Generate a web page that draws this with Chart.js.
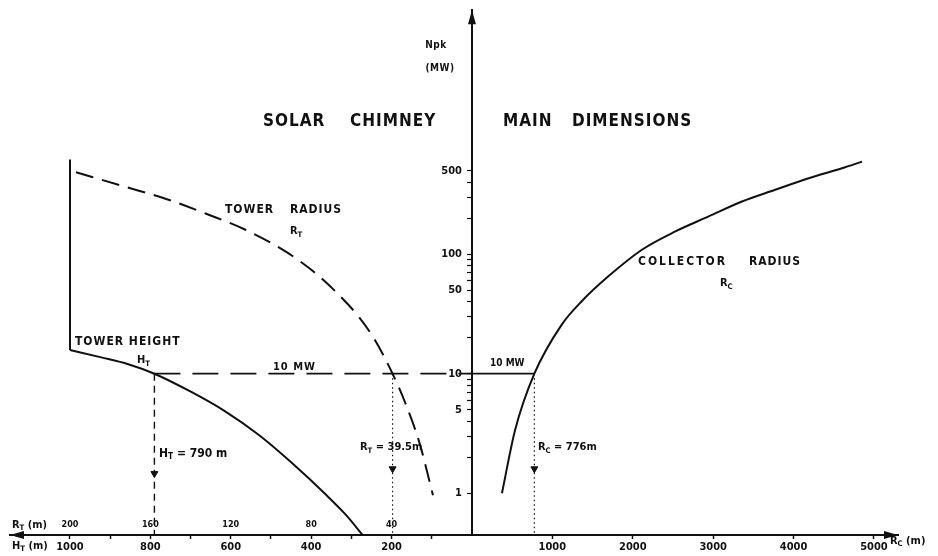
<!DOCTYPE html>
<html>
<head>
<meta charset="utf-8">
<title>Solar chimney main dimensions</title>
<script src="https://cdn.jsdelivr.net/npm/chart.js@4.4.1/dist/chart.umd.min.js"></script>
<style>
  html, body { margin: 0; padding: 0; background: #fff; }
  #wrap { position: relative; width: 938px; height: 556px; }
</style>
</head>
<body>
<div id="wrap"><canvas id="myChart"></canvas></div>
<script>
// values, peak power Npk in MW (log axis)

// tower radius R_T (m), dashed curve on the left
var radiusRT = [197, 173, 151, 131, 113, 93, 79, 68, 56, 48, 39.5, 33, 26, 19.4];
var radiusN = [485, 369, 286, 214, 161, 106, 72, 49, 29.5, 18.8, 10, 5.6, 2.6, 0.96];

// tower height H_T (m), solid curve on the left (capped at 1000 m)
var capH = [1000, 1000];
var capN = [620, 15.8];
var heightH = [1000, 922, 855, 790, 697, 613, 530, 447, 363, 313, 272];
var heightN = [15.8, 13.7, 12.0, 10, 7.0, 4.82, 3.07, 1.78, 0.97, 0.655, 0.447];

// collector radius R_C (m), solid curve on the right
var collectorR = [373, 535, 776, 1119, 1368, 1700, 2114, 2529, 2944, 3358, 3772, 4188, 4602, 4851];
var collectorN = [1.0, 3.35, 10, 25.9, 40.6, 65.6, 109, 155, 207, 276, 346, 432, 524, 596];

// the 10 MW design point
var designN = 10;
var designH = 790;
var designRT = 39.5;
var designRC = 776;
var arrowN = [1.46, 1.6, 1.6];   // arrowheads on the drop lines (H_T, R_T, R_C)

// axes
var yTicks = [1, 2, 3, 4, 5, 6, 7, 8, 9, 10, 20, 30, 40, 50, 60, 70, 80, 90, 100, 200, 300, 400, 500];
var yLabels = [1, 5, 10, 50, 100, 500];
var hTicks = [100, 200, 300, 400, 500, 600, 700, 800, 900, 1000];
var hLabels = [1000, 800, 600, 400, 200];
var rtLabels = [200, 160, 120, 80, 40];
var rcTicks = [1000, 2000, 3000, 4000, 5000];

// one shared x axis in collector metres; the left half is drawn 5x (H_T) and 25x (R_T) larger
var heightToX = 5;
var radiusToX = 25;
var xMin = -5746, xMax = 5299;
var yMin = 0.447, yMax = 11015;

var ink = '#111';
var face = '"DejaVu Sans Condensed", "Liberation Sans", sans-serif';

function pts(xs, ys, k) {
    return xs.map(function(v, i) { return {x: k * v, y: ys[i]}; });
}

function line(data, width, dash, smooth) {
    return {
        data: data, showLine: true, borderColor: ink, borderWidth: width,
        borderDash: dash || [], pointRadius: 0, fill: false,
        cubicInterpolationMode: smooth ? 'monotone' : 'default', tension: 0
    };
}

// labels, anchored in axis units (x in collector metres, n in MW)
var notes = [
    {t: 'SOLAR', x: -2600, n: 1283, size: 17, sp: 1},
    {t: 'CHIMNEY', x: -1517, n: 1283, size: 17, sp: 1},
    {t: 'MAIN', x: 386, n: 1283, size: 17, sp: 1},
    {t: 'DIMENSIONS', x: 1244, n: 1283, size: 17, sp: 1},
    {t: 'Npk', x: -448, n: 5623, size: 10, sp: 0.5, align: 'center'},
    {t: '(MW)', x: -398, n: 3594, size: 10, sp: 0.5, align: 'center'},
    {t: 'TOWER', x: -3072, n: 237, size: 12, sp: 1},
    {t: 'RADIUS', x: -2264, n: 237, size: 12, sp: 1},
    {t: 'R_T', x: -2264, n: 155, size: 11, sp: 0},
    {t: 'TOWER HEIGHT', x: -4938, n: 18.4, size: 12, sp: 1},
    {t: 'H_T', x: -4167, n: 12.9, size: 11, sp: 0},
    {t: '10 MW', x: -2475, n: 11.4, size: 11, sp: 1},
    {t: '10 MW', x: 224, n: 12.3, size: 10, sp: 0},
    {t: 'H_T = 790 m', x: -3893, n: 2.15, size: 12, sp: 0},
    {t: 'R_T = 39.5m', x: -1393, n: 2.42, size: 11, sp: 0},
    {t: 'R_C = 776m', x: 821, n: 2.42, size: 11, sp: 0},
    {t: 'COLLECTOR', x: 2065, n: 87, size: 12, sp: 2},
    {t: 'RADIUS', x: 3445, n: 87, size: 12, sp: 1},
    {t: 'R_C', x: 3085, n: 57, size: 11, sp: 0},
    {t: 'R_C (m)', x: 5199, n: 0.398, size: 11, sp: 0}
];

function drawNote(ctx, text, x, y, size, sp, align) {
    var parts = text.split(/_(.)/);
    ctx.textBaseline = 'middle';
    ctx.textAlign = 'left';
    if ('letterSpacing' in ctx) ctx.letterSpacing = sp + 'px';
    var w = 0;
    parts.forEach(function(p, i) {
        ctx.font = 'bold ' + (i % 2 ? size * 0.7 : size) + 'px ' + face;
        w += ctx.measureText(p).width;
    });
    if (align === 'center') x -= w / 2;
    if (align === 'right') x -= w;
    parts.forEach(function(p, i) {
        ctx.font = 'bold ' + (i % 2 ? size * 0.7 : size) + 'px ' + face;
        ctx.fillText(p, x, i % 2 ? y + size * 0.3 : y);
        x += ctx.measureText(p).width;
    });
    if ('letterSpacing' in ctx) ctx.letterSpacing = '0px';
}

function arrowHead(ctx, x, y, dir) {
    ctx.beginPath();
    if (dir === 'left') { ctx.moveTo(x, y); ctx.lineTo(x + 14, y - 4); ctx.lineTo(x + 14, y + 4); }
    if (dir === 'right') { ctx.moveTo(x, y); ctx.lineTo(x - 14, y - 4); ctx.lineTo(x - 14, y + 4); }
    if (dir === 'up') { ctx.moveTo(x, y); ctx.lineTo(x - 4, y + 14); ctx.lineTo(x + 4, y + 14); }
    ctx.closePath();
    ctx.fill();
}

var annotate = {
    id: 'annotate',
    afterDraw: function(chart) {
        var ctx = chart.ctx, xs = chart.scales.x, ys = chart.scales.y, area = chart.chartArea;
        ctx.save();
        ctx.fillStyle = ink;
        var ox = xs.getPixelForValue(0);
        arrowHead(ctx, area.left, area.bottom, 'left');
        arrowHead(ctx, area.right, area.bottom, 'right');
        arrowHead(ctx, ox, area.top, 'up');

        // power labels to the left of the centre axis
        yLabels.forEach(function(v) {
            drawNote(ctx, String(v), ox - 10, ys.getPixelForValue(v), 11, 0, 'right');
        });

        // tower radius scale, above the axis line
        rtLabels.forEach(function(r) {
            drawNote(ctx, String(r), xs.getPixelForValue(-r * radiusToX), area.bottom - 10, 9, 0, 'center');
        });
        drawNote(ctx, 'R_T (m)', area.left + 2, area.bottom - 10, 11, 0);
        drawNote(ctx, 'H_T (m)', area.left + 2, area.bottom + 11, 11, 0);

        notes.forEach(function(n) {
            drawNote(ctx, n.t, xs.getPixelForValue(n.x), ys.getPixelForValue(n.n), n.size, n.sp, n.align);
        });
        ctx.restore();
    }
};

var dropH = -designH * heightToX, dropRT = -designRT * radiusToX;

var ctx = document.getElementById('myChart').getContext('2d');
var chart = new Chart(ctx, {
    type: 'scatter',
    data: {
        datasets: [
            line(pts(radiusRT, radiusN, -radiusToX), 2, [18, 9], true),
            line(pts(capH, capN, -heightToX), 2),
            line(pts(heightH, heightN, -heightToX), 2, [], true),
            line(pts(collectorR, collectorN, 1), 2, [], true),
            line([{x: dropH, y: designN}, {x: 0, y: designN}], 1.8, [26, 12]),
            line([{x: 0, y: designN}, {x: designRC, y: designN}], 1.8),
            line([{x: dropH, y: designN}, {x: dropH, y: yMin}], 1.4, [7, 5]),
            line([{x: dropRT, y: designN}, {x: dropRT, y: yMin}], 1.2, [1.5, 3]),
            line([{x: designRC, y: designN}, {x: designRC, y: yMin}], 1.2, [1.5, 3]),
            {
                data: [{x: dropH, y: arrowN[0]}, {x: dropRT, y: arrowN[1]}, {x: designRC, y: arrowN[2]}],
                pointStyle: 'triangle', rotation: 180, pointRadius: 4,
                backgroundColor: ink, borderColor: ink, showLine: false
            }
        ]
    },
    options: {
        responsive: true,
        maintainAspectRatio: false,
        animation: false,
        layout: { padding: {left: 10, right: 40, top: 8, bottom: 0} },
        plugins: { legend: {display: false}, tooltip: {enabled: false} },
        scales: {
            x: {
                type: 'linear', position: 'bottom', min: xMin, max: xMax,
                afterBuildTicks: function(s) {
                    s.ticks = hTicks.map(function(h) { return {value: -h * heightToX}; })
                        .concat(rcTicks.map(function(r) { return {value: r}; }));
                },
                afterFit: function(s) { s.height = 21; },
                grid: { drawOnChartArea: false, tickLength: 4, color: ink, tickWidth: 1.5 },
                border: { display: true, color: ink, width: 2 },
                ticks: {
                    autoSkip: false, maxRotation: 0, padding: 2, color: ink,
                    font: { family: face, size: 11, weight: 'bold' },
                    callback: function(v) {
                        if (v < 0) {
                            var h = -v / heightToX;
                            return hLabels.indexOf(h) >= 0 ? String(h) : '';
                        }
                        return String(v);
                    }
                }
            },
            y: {
                type: 'logarithmic', position: {x: 0}, min: yMin, max: yMax,
                afterBuildTicks: function(s) {
                    s.ticks = yTicks.map(function(v) { return {value: v}; });
                },
                grid: { drawOnChartArea: false, tickLength: 4, color: ink, tickWidth: 1.2 },
                border: { display: true, color: ink, width: 2 },
                ticks: { autoSkip: false, display: true, color: ink, callback: function() { return ''; } }
            }
        }
    },
    plugins: [annotate]
});
</script>
</body>
</html>
